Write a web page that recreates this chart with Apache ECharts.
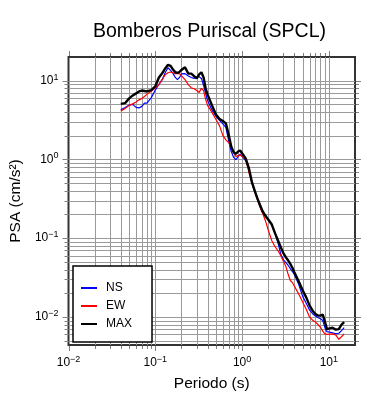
<!DOCTYPE html>
<html>
<head>
<meta charset="utf-8">
<script src="https://cdn.jsdelivr.net/npm/echarts@6/dist/echarts.min.js"></script>
<style>
  html, body { margin: 0; padding: 0; background: #fff; }
  #chart { width: 390px; height: 400px; }
</style>
</head>
<body>
<div id="chart"></div>
<script>
// periods (s) shared by the three spectra
const periods = [
  0.04, 0.045, 0.05, 0.055, 0.06, 0.065, 0.07, 0.075, 0.08,
  0.09, 0.1, 0.11, 0.12, 0.13, 0.14, 0.15, 0.16, 0.17, 0.18, 0.19, 0.2,
  0.22, 0.24, 0.26, 0.28, 0.3, 0.32, 0.34, 0.36, 0.38, 0.4,
  0.45, 0.5, 0.55, 0.6, 0.65, 0.7, 0.75, 0.8, 0.85, 0.9, 0.95, 1.0,
  1.1, 1.2, 1.3, 1.4, 1.5, 1.6, 1.7, 1.8, 1.9, 2.0,
  2.2, 2.4, 2.6, 2.8, 3.0, 3.2, 3.4, 3.6, 3.8, 4.0,
  4.5, 5.0, 5.5, 6.0, 6.5, 7.0, 7.5, 8.0, 8.5, 9.0, 9.5, 10,
  11, 12, 13, 14, 15
];

const ns = [
  4.26, 4.58, 4.90, 5.0, 4.58, 4.51, 4.72, 5.2, 5.2,
  6.1, 7.6, 9.0, 10.3, 12.6, 14.6, 13.5, 12.4, 11.0, 10.3, 11.0, 12.2,
  12.3, 11.5, 11.0, 10.7, 11.2, 11.2, 10.7, 8.7, 6.9, 5.6,
  4.26, 3.52, 3.13, 2.83, 2.55, 1.74, 1.26, 1.06, 0.99, 1.09, 1.17, 1.16,
  0.97, 0.75, 0.50, 0.40, 0.324, 0.264, 0.215, 0.203, 0.189, 0.173,
  0.147, 0.115, 0.086, 0.062, 0.053, 0.049, 0.045, 0.041, 0.0377, 0.0345,
  0.0258, 0.0181, 0.0148, 0.0122, 0.0110, 0.0103, 0.0098, 0.0095, 0.0090, 0.0073, 0.0065, 0.0063,
  0.0063, 0.0061, 0.0062, 0.0067, 0.0073
];

const ew = [
  4.13, 4.45, 4.86, 5.08, 5.38, 5.71, 5.96, 6.3, 6.7,
  7.4, 8.1, 8.9, 10.3, 11.9, 12.6, 12.9, 12.6, 12.3, 12.3, 12.3, 11.7,
  10.3, 8.9, 8.1, 7.9, 7.5, 7.1, 8.0, 7.5, 5.8, 4.86,
  3.96, 3.22, 2.67, 2.02, 1.77, 1.64, 1.44, 1.25, 1.09, 1.12, 1.14, 1.11,
  1.01, 0.68, 0.50, 0.386, 0.310, 0.253, 0.215, 0.183, 0.154, 0.127,
  0.093, 0.078, 0.0687, 0.060, 0.0505, 0.0436, 0.0345, 0.029, 0.0273, 0.0258,
  0.0195, 0.0154, 0.0124, 0.0099, 0.0091, 0.0086, 0.0080, 0.0074, 0.0066, 0.0061, 0.0060, 0.0059,
  0.0061, 0.0059, 0.0052, 0.0056, 0.0061
];

const maxPsa = [
  5.08, 5.2, 5.96, 6.5, 6.9, 7.3, 7.5, 7.4, 7.3,
  7.6, 8.5, 11.0, 12.4, 14.3, 15.9, 15.4, 13.9, 12.8, 12.6, 12.9, 13.7,
  14.8, 12.3, 12.3, 11.4, 10.7, 12.0, 12.8, 11.0, 8.0, 6.7,
  4.86, 3.73, 3.27, 3.08, 2.87, 2.08, 1.46, 1.23, 1.18, 1.26, 1.30, 1.24,
  1.03, 0.77, 0.51, 0.40, 0.32, 0.268, 0.228, 0.203, 0.186, 0.173,
  0.149, 0.115, 0.093, 0.076, 0.064, 0.057, 0.052, 0.047, 0.042, 0.037,
  0.0281, 0.0216, 0.0176, 0.0139, 0.0120, 0.0109, 0.0104, 0.0104, 0.0107, 0.0087, 0.0070, 0.0069,
  0.0073, 0.0069, 0.0070, 0.0080, 0.0086
];

// axis ranges and grid ticks
const xRange = [0.01, 20];
const yRange = [0.0044, 20];
const xMajor = [0.01, 0.1, 1, 10];
const yMajor = [0.01, 0.1, 1, 10];
const xMinor = [];
const yMinor = [];
[0.01, 0.1, 1, 10].forEach(function (d) {
  for (let k = 2; k <= 9; k++) {
    const v = +(d * k).toPrecision(3);
    if (v < xRange[1]) xMinor.push(v);
  }
});
[0.001, 0.01, 0.1, 1, 10].forEach(function (d) {
  for (let k = 2; k <= 9; k++) {
    const v = +(d * k).toPrecision(3);
    if (v > yRange[0] && v < yRange[1]) yMinor.push(v);
  }
});

const FONT = 'Liberation Sans';
const chart = echarts.init(document.getElementById('chart'));

function pairs(values) {
  return periods.map(function (t, i) { return [t, values[i]]; });
}

function powerLabel(v) {
  const e = Math.log10(v);
  const r = Math.round(e);
  if (Math.abs(e - r) > 1e-6) return '';
  return '10{e|' + (r < 0 ? '\u2212' + (-r) : r) + '}';
}

const labelRich = {
  e: { fontSize: 9, lineHeight: 10, verticalAlign: 'top', fontFamily: FONT, color: '#000' }
};

// grid lines and ticks on all four sides
function renderFrame(params, api) {
  const children = [];
  const bl = api.coord([xRange[0], yRange[0]]);
  const tr = api.coord([xRange[1], yRange[1]]);
  const left = bl[0], bottom = bl[1], right = tr[0], top = tr[1];
  const gridStyle = { stroke: '#9a9a9a', lineWidth: 1 };
  const tickStyle = { stroke: '#808080', lineWidth: 1 };
  function seg(x1, y1, x2, y2, style) {
    children.push({ type: 'line', shape: { x1: x1, y1: y1, x2: x2, y2: y2 }, style: style });
  }
  function xs(v) { return Math.round(api.coord([v, yRange[0]])[0]) + 0.5; }
  function ys(v) { return Math.round(api.coord([xRange[0], v])[1]) + 0.5; }

  xMinor.concat(xMajor).forEach(function (v) {
    const x = xs(v);
    const len = xMajor.indexOf(v) >= 0 ? 5 : 3;
    if (v > xRange[0]) seg(x, top, x, bottom, gridStyle);
    seg(x, bottom + 1, x, bottom + 1 + len, tickStyle);
    seg(x, top - 1, x, top - 1 - len, tickStyle);
  });
  yMinor.concat(yMajor).forEach(function (v) {
    const y = ys(v);
    const len = yMajor.indexOf(v) >= 0 ? 5 : 3;
    seg(left, y, right, y, gridStyle);
    seg(left - 1, y, left - 1 - len, y, tickStyle);
    seg(right + 1, y, right + 1 + len, y, tickStyle);
  });
  return { type: 'group', children: children };
}

const option = {
  animation: false,
  backgroundColor: '#fff',
  title: {
    text: 'Bomberos Puriscal (SPCL)',
    left: 93,
    top: 22,
    padding: 0,
    textStyle: { fontFamily: FONT, fontSize: 19.5, fontWeight: 'normal', color: '#000' }
  },
  grid: {
    left: 67, right: 35, top: 57, bottom: 55,
    show: true, borderColor: '#333', borderWidth: 2, backgroundColor: 'transparent'
  },
  legend: {
    data: ['NS', 'EW', 'MAX'],
    orient: 'vertical',
    left: 73,
    top: 266,
    padding: [13, 20, 9, 8],
    itemGap: 0,
    itemWidth: 16,
    itemHeight: 2,
    icon: 'rect',
    backgroundColor: '#fff',
    borderColor: '#000',
    borderWidth: 1.5,
    borderRadius: 0,
    textStyle: { fontFamily: FONT, fontSize: 12, lineHeight: 18, color: '#000', padding: [0, 0, 0, 4] }
  },
  xAxis: {
    type: 'log',
    logBase: 10,
    min: xRange[0],
    max: xRange[1],
    axisLine: { show: false },
    axisTick: { show: false },
    splitLine: { show: false },
    axisLabel: {
      formatter: powerLabel,
      rich: labelRich,
      margin: 10,
      fontSize: 12,
      lineHeight: 16,
      fontFamily: FONT,
      color: '#000'
    },
    name: 'Periodo (s)',
    nameLocation: 'middle',
    nameGap: 28,
    nameTextStyle: { fontFamily: FONT, fontSize: 15.5, color: '#000' }
  },
  yAxis: {
    type: 'log',
    logBase: 10,
    min: yRange[0],
    max: yRange[1],
    axisLine: { show: false },
    axisTick: { show: false },
    splitLine: { show: false },
    axisLabel: {
      formatter: powerLabel,
      rich: labelRich,
      margin: 10,
      fontSize: 12,
      lineHeight: 16,
      fontFamily: FONT,
      color: '#000'
    },
    name: 'PSA (cm/s\u00b2)',
    nameLocation: 'middle',
    nameGap: 42,
    nameTextStyle: { fontFamily: FONT, fontSize: 15.5, color: '#000' }
  },
  series: [
    {
      type: 'custom',
      silent: true,
      clip: false,
      renderItem: renderFrame,
      data: [[1, 1]],
      z: 1
    },
    {
      name: 'NS',
      type: 'line',
      data: pairs(ns),
      showSymbol: false,
      symbol: 'none',
      lineStyle: { color: '#0000ff', width: 1.2 },
      itemStyle: { color: '#0000ff' },
      z: 3
    },
    {
      name: 'EW',
      type: 'line',
      data: pairs(ew),
      showSymbol: false,
      symbol: 'none',
      lineStyle: { color: '#ff0000', width: 1.2 },
      itemStyle: { color: '#ff0000' },
      z: 3
    },
    {
      name: 'MAX',
      type: 'line',
      data: pairs(maxPsa),
      showSymbol: false,
      symbol: 'none',
      lineStyle: { color: '#000000', width: 2.4 },
      itemStyle: { color: '#000000' },
      z: 4
    }
  ]
};

chart.setOption(option);
</script>
</body>
</html>
